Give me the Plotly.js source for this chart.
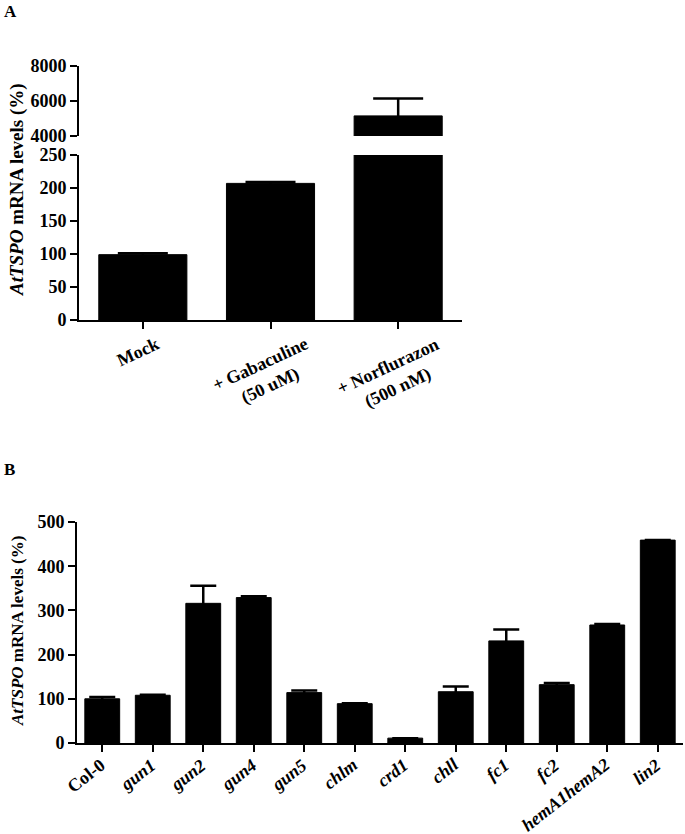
<!DOCTYPE html>
<html>
<head>
<meta charset="utf-8">
<script src="https://cdn.plot.ly/plotly-3.0.1.min.js"></script>
<style>html,body{margin:0;padding:0;background:#fff;}#chart{width:685px;height:834px;}</style>
</head>
<body>
<div id="chart"></div>
<script>
// Panel A data
const catsA = ['Mock', 'Gabaculine', 'Norflurazon'];
const labelsA = ['Mock', '+ Gabaculine<br>(50 uM)', '+ Norflurazon<br>(500 nM)'];
const valsA = [99, 207, 5150];
const errA = [2, 2, 1000];
const ticksA_low = [0, 50, 100, 150, 200, 250];
const ticksA_high = [4000, 6000, 8000];

// Panel B data
const catsB = ['Col-0', 'gun1', 'gun2', 'gun4', 'gun5', 'chlm', 'crd1', 'chll', 'fc1', 'fc2', 'hemA1hemA2', 'lin2'];
const italicB = [false, true, true, true, true, true, true, true, true, true, true, true];
const valsB = [100, 108, 316, 329, 114, 89, 11, 116, 231, 132, 267, 459];
const errB = [4, 1, 40, 3, 5, 1, 0, 12, 26, 4, 2, 0];
const ticksB = [0, 100, 200, 300, 400, 500];

const FONT = '"Liberation Serif", "Times New Roman", Times, serif';
const W = 685, H = 834;
const px = v => v / W;
const py = v => 1 - v / H;

const barStyle = {color: '#000', line: {color: '#000', width: 1}};

const traces = [
  {type: 'bar', x: catsA, y: valsA, xaxis: 'x', yaxis: 'y', width: 0.69, marker: barStyle,
   error_y: {type: 'data', array: errA, visible: true, color: '#000', thickness: 2.5, width: 25}},
  {type: 'bar', x: catsA, y: valsA, xaxis: 'x', yaxis: 'y2', width: 0.69, marker: barStyle,
   error_y: {type: 'data', array: errA, visible: true, color: '#000', thickness: 2.5, width: 25}},
  {type: 'bar', x: catsB, y: valsB, xaxis: 'x2', yaxis: 'y3', width: 0.69, marker: barStyle,
   error_y: {type: 'data', array: errB, visible: true, color: '#000', thickness: 2.5, width: 13}}
];

const axisCommon = {
  showline: true, linecolor: '#000', linewidth: 2, showgrid: false, zeroline: false,
  ticks: 'outside', ticklen: 7, tickwidth: 2, tickcolor: '#000', fixedrange: true
};

const annotations = [];
annotations.push({text: '<b>A</b>', xref: 'paper', yref: 'paper', x: px(2), y: py(0), xanchor: 'left', yanchor: 'top',
  showarrow: false, font: {family: FONT, size: 17, color: '#000'}});
annotations.push({text: '<b>B</b>', xref: 'paper', yref: 'paper', x: px(2), y: py(458), xanchor: 'left', yanchor: 'top',
  showarrow: false, font: {family: FONT, size: 17, color: '#000'}});
annotations.push({text: '<b><i>AtTSPO</i> mRNA levels (%)</b>', xref: 'paper', yref: 'paper', x: px(17), y: py(190),
  xanchor: 'center', yanchor: 'middle', textangle: -90, showarrow: false, font: {family: FONT, size: 19, color: '#000'}});
annotations.push({text: '<b><i>AtTSPO</i> mRNA levels (%)</b>', xref: 'paper', yref: 'paper', x: px(17), y: py(631),
  xanchor: 'center', yanchor: 'middle', textangle: -90, showarrow: false, font: {family: FONT, size: 17, color: '#000'}});

catsA.forEach((c, i) => {
  annotations.push({text: '<b>' + labelsA[i] + '</b>', xref: 'x', yref: 'y', x: c, y: 0,
    xanchor: 'center', yanchor: 'top', xshift: -5, yshift: -11, textangle: -25, showarrow: false,
    align: 'center', font: {family: FONT, size: 18, color: '#000'}});
});
catsB.forEach((c, i) => {
  const t = italicB[i] ? '<b><i>' + c + '</i></b>' : '<b>' + c + '</b>';
  annotations.push({text: t, xref: 'x2', yref: 'y3', x: c, y: 0,
    xanchor: 'right', yanchor: 'top', xshift: 9, yshift: -9, textangle: -38, showarrow: false,
    font: {family: FONT, size: 18, color: '#000'}});
});

const layout = {
  width: W, height: H,
  margin: {l: 0, r: 0, t: 0, b: 0},
  paper_bgcolor: '#fff', plot_bgcolor: 'rgba(0,0,0,0)',
  showlegend: false, bargap: 0.3,
  font: {family: FONT, color: '#000'},
  xaxis: Object.assign({}, axisCommon, {domain: [px(79), px(462)], range: [-0.5, 2.5], type: 'category',
    anchor: 'y', showticklabels: false}),
  yaxis: Object.assign({}, axisCommon, {domain: [py(320), py(155)], range: [0, 250], anchor: 'x',
    tickmode: 'array', tickvals: ticksA_low, ticktext: ticksA_low.map(v => '<b>' + v + '</b>'),
    tickfont: {family: FONT, size: 18, color: '#000'}}),
  yaxis2: Object.assign({}, axisCommon, {domain: [py(136), py(66)], range: [4000, 8000], anchor: 'x',
    tickmode: 'array', tickvals: ticksA_high, ticktext: ticksA_high.map(v => '<b>' + v + '</b>'),
    tickfont: {family: FONT, size: 18, color: '#000'}}),
  xaxis2: Object.assign({}, axisCommon, {domain: [px(77), px(683)], range: [-0.5, 11.5], type: 'category',
    anchor: 'y3', showticklabels: false}),
  yaxis3: Object.assign({}, axisCommon, {domain: [py(743), py(522)], range: [0, 500], anchor: 'x2',
    tickmode: 'array', tickvals: ticksB, ticktext: ticksB.map(v => '<b>' + v + '</b>'),
    tickfont: {family: FONT, size: 18, color: '#000'}}),
  annotations: annotations
};

Plotly.newPlot('chart', traces, layout, {displayModeBar: false, staticPlot: true});
</script>
</body>
</html>
